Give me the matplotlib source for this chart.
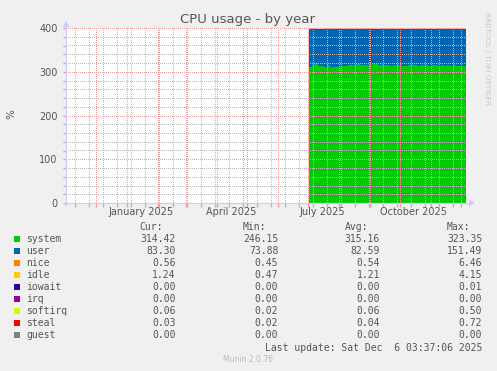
import numpy as np
import matplotlib
matplotlib.use("Agg")
import matplotlib.pyplot as plt
import matplotlib.dates as mdates
from matplotlib.colors import to_rgba
from datetime import datetime, timedelta

# ---------------- data ----------------
title = "CPU usage - by year"
series_names = ["system", "user", "nice", "idle", "iowait", "irq", "softirq", "steal", "guest"]
series_colors = ["#00CC00", "#0066B3", "#FF8000", "#FFCC00", "#330099", "#990099", "#CCFF00", "#FF0000", "#808080"]

data_start = "2025-07-02"
step_days = 3
system = [312, 316, 319, 313, 314, 312, 315, 311, 312, 311, 313, 313, 314, 315, 316, 315, 317, 315,
          316, 316, 315, 317, 318, 316, 315, 316, 315, 314, 315, 315, 315, 314, 314, 315, 315, 315,
          314, 315, 315, 316, 314, 315, 315, 314, 315, 314, 315, 314, 315, 314, 314, 314, 314]
user = [86, 82, 79, 85, 84, 86, 83, 87, 86, 87, 85, 85, 84, 83, 82, 83, 81, 83,
        82, 82, 83, 81, 80, 82, 83, 82, 83, 84, 83, 83, 83, 84, 84, 83, 83, 83,
        84, 83, 83, 82, 84, 83, 83, 84, 83, 84, 83, 84, 83, 84, 84, 84, 83]
nice = [0.6, 0.5, 0.5, 0.6, 0.5, 0.5, 0.6, 0.5, 0.5, 0.6, 0.5, 0.5, 0.5, 0.6, 0.5, 0.5, 0.6, 0.5,
        0.5, 0.5, 0.6, 0.5, 0.5, 0.5, 0.6, 0.5, 0.5, 0.5, 0.6, 0.5, 0.5, 0.5, 0.6, 0.5, 0.5, 0.5,
        0.6, 0.5, 0.5, 0.5, 0.6, 0.5, 0.5, 0.5, 0.6, 0.5, 0.5, 0.5, 0.6, 0.5, 0.5, 0.5, 0.6]
idle = [1.2, 1.3, 1.1, 1.2, 1.2, 1.3, 1.2, 1.1, 1.2, 1.2, 1.3, 1.2, 1.2, 1.1, 1.2, 1.2, 1.3, 1.2,
        1.2, 1.2, 1.1, 1.2, 1.3, 1.2, 1.2, 1.2, 1.1, 1.2, 1.2, 1.3, 1.2, 1.2, 1.2, 1.1, 1.2, 1.2,
        1.3, 1.2, 1.2, 1.2, 1.1, 1.2, 1.2, 1.3, 1.2, 1.2, 1.2, 1.1, 1.2, 1.2, 1.3, 1.2, 1.2]
softirq = [0.06] * 53
steal = [0.04] * 53

# legend table
cur = ["314.42", "83.30", "0.56", "1.24", "0.00", "0.00", "0.06", "0.03", "0.00"]
mins = ["246.15", "73.88", "0.45", "0.47", "0.00", "0.00", "0.02", "0.02", "0.00"]
avgs = ["315.16", "82.59", "0.54", "1.21", "0.00", "0.00", "0.06", "0.04", "0.00"]
maxs = ["323.35", "151.49", "6.46", "4.15", "0.01", "0.00", "0.50", "0.72", "0.00"]

x_start = datetime(2024, 11, 1, 3, 37, 6)
x_end = datetime(2025, 12, 6, 3, 37, 6)
label_dates = ["2025-01-15", "2025-04-15", "2025-07-15", "2025-10-15"]
label_texts = ["January 2025", "April 2025", "July 2025", "October 2025"]
y_max = 400
y_major = [0, 100, 200, 300, 400]

# ---------------- figure ----------------
W, H = 497, 371
fig = plt.figure(figsize=(W / 100, H / 100), dpi=100)
fig.patch.set_facecolor("#F0F0F0")

L, R, T, B = 66, 466, 28, 203
ax = fig.add_axes([L / W, 1 - B / H, (R - L) / W, (B - T) / H])
ax.set_facecolor("white")

t0 = datetime.strptime(data_start, "%Y-%m-%d")
n = len(system)
times = [t0 + timedelta(days=step_days * i) for i in range(n)]
times.append(x_end)
xt = mdates.date2num(times)

stack_vals = [system, user, nice, idle, [0] * n, [0] * n, softirq, steal, [0] * n]
base = np.zeros(n + 1)
for vals, col in zip(stack_vals, series_colors):
    v = np.array(list(vals) + [vals[-1]], dtype=float)
    top = base + v
    ax.fill_between(xt, base, top, step="post", color=col, linewidth=0, zorder=2)
    base = top

xlo, xhi = mdates.date2num(x_start), mdates.date2num(x_end)
ax.set_xlim(xlo, xhi)
ax.set_ylim(0, y_max)

# grid positions
minor_days = []
d = datetime(2024, 11, 10)
while d < x_end:
    minor_days.append(d)
    d += timedelta(days=14)
months = []
yy_, mm_ = 2024, 12
while datetime(yy_, mm_, 1) < x_end:
    months.append(datetime(yy_, mm_, 1))
    mm_ += 1
    if mm_ > 12:
        mm_, yy_ = 1, yy_ + 1
minor_y = [v for v in range(0, y_max + 1, 20) if v % 100]

# dotted grid rendered pixel-exact as an overlay (rrdtool style: 1 on / 1 off)
minor_hex = "#B8B8B8"
major_hex = "#EC9C9C"
minor_col = to_rgba(minor_hex)
major_col = to_rgba(major_hex)
aw, ah = R - L, B - T
grid = np.zeros((ah, aw, 4))

def col_of(xdate):
    return int(round((mdates.date2num(xdate) - xlo) / (xhi - xlo) * aw))

def row_of(yval):
    return int(round((1 - yval / y_max) * ah))

def vline(c, color):
    if 0 <= c < aw:
        grid[::2, c] = color

def hline(r, color):
    r = min(max(r, 0), ah - 1)
    grid[r, ::2] = color

for yv in minor_y:
    hline(row_of(yv), minor_col)
for dd in minor_days:
    vline(col_of(dd), minor_col)
for dd in months:
    vline(col_of(dd), major_col)
for yv in y_major:
    if yv > 0:
        hline(row_of(yv), major_col)
fig.figimage(grid, xo=L, yo=H - B, origin="upper", zorder=5)

for s in ax.spines.values():
    s.set_visible(False)

# ticks
ax.set_yticks(y_major)
ax.set_yticklabels([str(v) for v in y_major])
ax.set_yticks(list(range(0, y_max + 1, 20)), minor=True)
ax.tick_params(axis="y", which="major", length=2, width=1, color=major_hex,
               labelsize=7, labelcolor="#555555", pad=4)
ax.tick_params(axis="y", which="minor", length=2, width=1, color=minor_hex)
ax.set_xticks(mdates.date2num(months))
ax.set_xticklabels([])
ax.set_xticks(mdates.date2num(minor_days), minor=True)
ax.tick_params(axis="x", which="major", length=3, width=1, color=major_hex)
ax.tick_params(axis="x", which="minor", length=3, width=1, color=minor_hex)

for ld, lt in zip(label_dates, label_texts):
    ax.text(mdates.date2num(datetime.strptime(ld, "%Y-%m-%d")), -9.3 / (B - T), lt,
            transform=ax.get_xaxis_transform(), ha="center", va="center",
            fontsize=7, color="#555555")

# axes lines with arrows (rrdtool style)
axis_col = "#CCCCFF"
fig.add_artist(plt.Line2D([L / W, (R + 3) / W], [1 - B / H, 1 - B / H], color=axis_col, lw=0.9, zorder=6))
fig.add_artist(plt.Line2D([L / W, L / W], [1 - (B + 2) / H, 1 - (T - 2) / H], color=axis_col, lw=0.9, zorder=6))
fig.add_artist(plt.Polygon([[(R + 3) / W, 1 - (B - 3.5) / H], [(R + 3) / W, 1 - (B + 3.5) / H],
                            [(R + 9) / W, 1 - B / H]], closed=True, color=axis_col, lw=0, zorder=6))
fig.add_artist(plt.Polygon([[(L - 3.5) / W, 1 - (T - 1) / H], [(L + 3.5) / W, 1 - (T - 1) / H],
                            [L / W, 1 - (T - 7) / H]], closed=True, color=axis_col, lw=0, zorder=6))

def ft(x, y, s, **kw):
    fig.text(x / W, 1 - y / H, s, **kw)

ft(248, 19, title, ha="center", va="center", fontsize=9.5, color="#555555")
ft(11, 114, "%", ha="center", va="center", rotation=90, fontsize=7.5, color="#555555")
ft(487, 58, "RRDTOOL / TOBI OETIKER", ha="center", va="center", rotation=270,
   fontsize=5.2, color="#C8C8C8")

mono = dict(family="DejaVu Sans Mono", fontsize=7, color="#555555", va="center")
col_right = [175.7, 278.3, 380, 482.3]
ft(163.3, 227.3, "Cur:", ha="right", **mono)
ft(265.7, 227.3, "Min:", ha="right", **mono)
ft(368.3, 227.3, "Avg:", ha="right", **mono)
ft(470.0, 227.3, "Max:", ha="right", **mono)
for i, name in enumerate(series_names):
    yy = 239.3 + 12 * i
    fig.add_artist(plt.Rectangle((14 / W, 1 - (yy + 3) / H), 6 / W, 6 / H,
                                 color=series_colors[i], lw=0))
    ft(26.5, yy, name, ha="left", **mono)
    for cx, vals in zip(col_right, [cur, mins, avgs, maxs]):
        ft(cx, yy, vals[i], ha="right", **mono)
ft(482.3, 347.7, "Last update: Sat Dec  6 03:37:06 2025", ha="right", **mono)
ft(248, 360, "Munin 2.0.76", ha="center", va="center", fontsize=5.5, color="#BBBBBB")

fig.savefig("out.png", dpi=100, facecolor=fig.get_facecolor())
